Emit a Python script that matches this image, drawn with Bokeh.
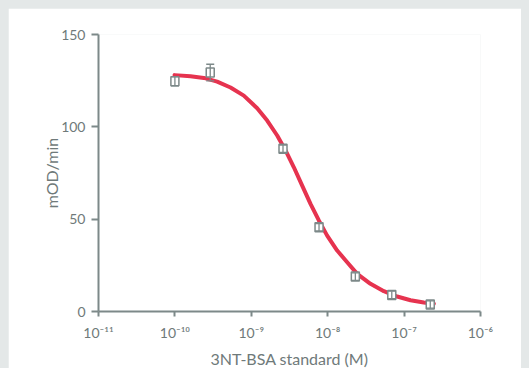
from bokeh.plotting import figure
from bokeh.models import Range1d, FixedTicker, CustomJSTickFormatter
from bokeh.embed import file_html
from bokeh.resources import INLINE

# ---- data ----
conc = [1.0e-10, 2.9e-10, 2.6e-9, 7.7e-9, 2.3e-8, 6.9e-8, 2.2e-7]
mod_rate = [124.7, 129.4, 88.1, 45.6, 18.9, 9.0, 3.8]
mod_err = [2.5, 4.5, 2.0, 2.0, 2.0, 2.0, 2.0]

# fitted curve (log10 of concentration, rate)
fit_log_conc = [-10.005, -9.796, -9.621, -9.447, -9.272, -9.098, -8.923, -8.792,
                -8.661, -8.552, -8.443, -8.334, -8.225, -8.116, -8.007, -7.876,
                -7.745, -7.614, -7.440, -7.265, -7.091, -6.916, -6.742, -6.611]
fit_rate = [128.0, 127.4, 126.5, 124.5, 121.3, 116.9, 110.1, 103.4,
            95.3, 87.2, 78.1, 68.2, 58.3, 49.3, 41.1, 33.0,
            26.7, 20.4, 15.0, 11.0, 8.1, 6.1, 4.9, 4.2]

x_ticks = [1e-11, 1e-10, 1e-9, 1e-8, 1e-7, 1e-6]
x_tick_labels = ["10\u207b\u00b9\u00b9", "10\u207b\u00b9\u2070", "10\u207b\u2079",
                 "10\u207b\u2078", "10\u207b\u2077", "10\u207b\u2076"]
y_ticks = [0, 50, 100, 150]

AXIS = "#7d8989"
TEXT = "#6f7a7a"
RED = "#e6334f"
FONT = "Lato"

fit_conc = [10 ** e for e in fit_log_conc]
upper = [v + e for v, e in zip(mod_rate, mod_err)]
lower = [v - e for v, e in zip(mod_rate, mod_err)]

p = figure(frame_width=382, frame_height=277, x_axis_type="log",
           x_range=Range1d(1e-11, 1e-6), y_range=Range1d(0, 150),
           output_backend="svg", toolbar_location=None,
           min_border_left=90, min_border_right=41,
           min_border_top=26, min_border_bottom=50)
p.outline_line_color = None
p.background_fill_color = "white"
p.border_fill_color = "white"
p.grid.visible = False

p.line(fit_conc, fit_rate, line_color=RED, line_width=4, line_cap="round",
       line_join="round")

p.rect(conc, mod_rate, width=8, height=9, width_units="screen", height_units="screen",
       fill_color="white", line_color=AXIS, line_width=1.5)
p.segment(conc, lower, conc, upper, line_color=AXIS, line_width=1.3)
p.scatter(conc, upper, marker="dash", size=8, line_color=AXIS, line_width=1.3)
p.scatter(conc, lower, marker="dash", size=8, line_color=AXIS, line_width=1.3)

for ax in (p.xaxis[0], p.yaxis[0]):
    ax.axis_line_color = AXIS
    ax.axis_line_width = 2
    ax.major_tick_line_color = AXIS
    ax.major_tick_line_width = 2
    ax.minor_tick_line_color = None
    ax.major_tick_in = 0
    ax.major_label_text_color = TEXT
    ax.major_label_text_font = FONT
    ax.major_label_text_font_size = "14px"
    ax.axis_label_text_color = TEXT
    ax.axis_label_text_font = FONT
    ax.axis_label_text_font_size = "16px"
    ax.axis_label_text_font_style = "normal"

p.xaxis.ticker = FixedTicker(ticks=x_ticks)
p.xaxis.formatter = CustomJSTickFormatter(
    args=dict(tick_values=x_ticks, tick_labels=x_tick_labels), code="""
    let best = 0, bd = Infinity;
    for (let i = 0; i < tick_values.length; i++) {
        const d = Math.abs(Math.log10(tick_values[i]) - Math.log10(tick));
        if (d < bd) { bd = d; best = i; }
    }
    return tick_labels[best];
""")
p.xaxis.major_tick_out = 5
p.xaxis.major_label_standoff = 7
p.xaxis.axis_label = "3NT-BSA standard (M)"
p.xaxis.axis_label_standoff = 5

p.yaxis.ticker = FixedTicker(ticks=y_ticks)
p.yaxis.major_tick_out = 7
p.yaxis.major_label_standoff = 6
p.yaxis.axis_label = "mOD/min"
p.yaxis.axis_label_standoff = -3

template = """
{% block postamble %}
<style>
html { background: #e4e8e8 !important; overflow: hidden !important; }
body { margin: 8px !important; padding: 0 !important; height: auto !important;
       background: transparent !important; overflow: hidden !important; }
</style>
{% endblock %}
"""

open("out.html", "w").write(file_html(p, INLINE, template=template))
